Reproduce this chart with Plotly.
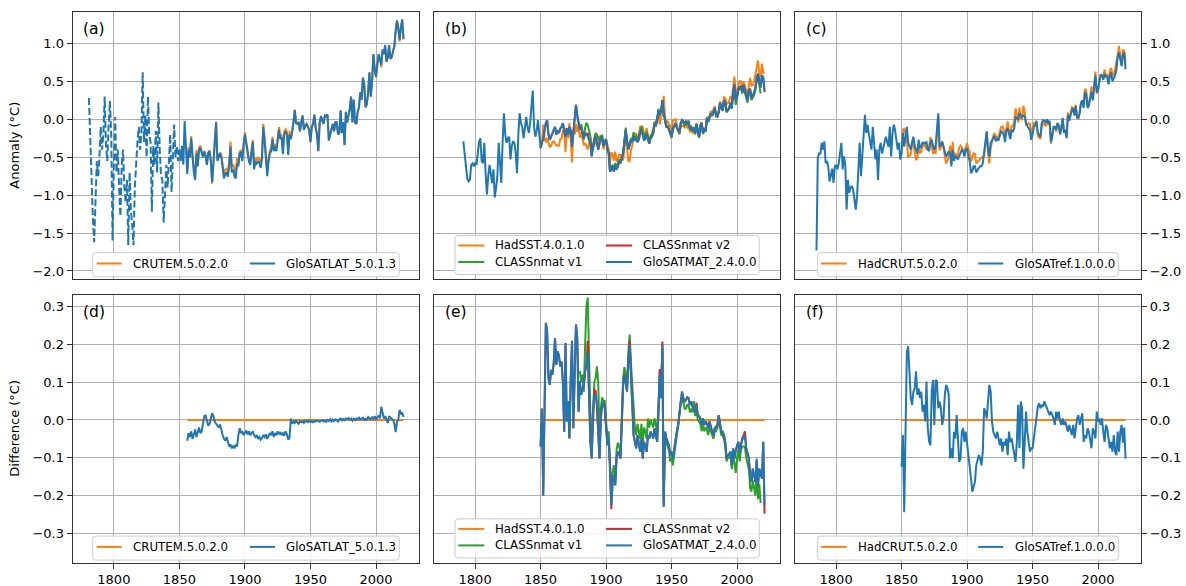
import plotly.graph_objects as go
import pandas as pd

W, H = 1186, 586

# ---------------- data (annual anomalies, degC) ----------------
# GloSATLAT_5.0.1.3 land air temperature, 1781-2021 (dashed up to 1850)
glosatlat_start = 1781
dashed_end_year = 1850
glosatlat = [
    0.28, -0.30, -1.00, -1.30, -1.62, -1.10, -0.55, -0.75, -0.50, -0.10,
    -0.40, -0.20, 0.30, -0.35, -0.55, -0.10, 0.24, -0.20, -1.60, -0.60,
    0.03, -0.70, -0.40, -0.90, -1.28, -0.60, -0.40, -0.90, -1.10, -0.80,
    -1.66, -0.70, -1.20, -1.40, -1.66, -0.90, -0.50, -0.30, -0.10, -0.40,
    -0.20, 0.62, -0.30, 0.05, -0.50, 0.30, -0.20, -0.30, -1.22, -0.35,
    -0.60, -0.15, -0.70, 0.22, -0.40, -0.75, -0.80, -1.36, -1.00, -0.60,
    -0.90, -0.50, -0.20, -0.96, -0.45, -0.07, -0.50, -0.35, -0.55, -0.40,
    -0.55, -0.35, -0.60, -0.02, -0.50, -0.72, -0.40, -0.50, -0.25, -0.55,
    -0.70, -0.80, -0.45, -0.62, -0.40, -0.38, -0.45, -0.50, -0.42, -0.48,
    -0.60, -0.45, -0.42, -0.55, -0.83, -0.55, -0.30, -0.04, -0.55, -0.50,
    -0.45, -0.50, -0.62, -0.78, -0.72, -0.70, -0.76, -0.62, -0.36, -0.70,
    -0.66, -0.75, -0.78, -0.58, -0.62, -0.45, -0.44, -0.55, -0.32, -0.20,
    -0.32, -0.48, -0.55, -0.60, -0.45, -0.30, -0.66, -0.56, -0.58, -0.55,
    -0.58, -0.64, -0.52, -0.10, -0.28, -0.52, -0.75, -0.56, -0.45, -0.42,
    -0.26, -0.42, -0.36, -0.42, -0.30, -0.14, -0.26, -0.24, -0.46, -0.20,
    -0.16, -0.20, -0.47, -0.20, -0.26, -0.18, -0.04, 0.12, -0.05, -0.06,
    -0.04, -0.16, -0.04, 0.05, -0.14, -0.08, -0.06, -0.10, -0.14, -0.30,
    -0.10, -0.06, 0.06, -0.12, -0.20, -0.42, -0.05, 0.04, 0.00, -0.06,
    0.05, 0.04, 0.06, -0.28, -0.20, -0.14, -0.06, -0.16, -0.04, -0.04,
    -0.20, -0.18, 0.12, -0.18, -0.04, -0.34, 0.10, -0.04, 0.06, 0.14,
    0.30, -0.04, 0.26, -0.04, -0.06, 0.10, 0.16, 0.36, 0.26, 0.55,
    0.46, 0.16, 0.20, 0.36, 0.62, 0.30, 0.50, 0.86, 0.66, 0.56,
    0.72, 0.86, 0.80, 0.72, 0.92, 0.86, 0.98, 0.76, 0.82, 0.98,
    0.80, 0.82, 0.90, 0.96, 1.16, 1.30, 1.20, 1.05, 1.22, 1.32,
    1.06,
]

# GloSATLAT minus CRUTEM.5.0.2.0, 1856-2021
lat_diff_start = 1856
lat_diff = [
    -0.055, -0.035, -0.045, -0.030, -0.050,
    -0.040, -0.025, -0.045, -0.035, -0.020, -0.035, -0.030, -0.010, 0.010, 0.012,
    -0.005, -0.015, -0.010, 0.005, 0.018, 0.010, -0.005, -0.010, -0.015, -0.020,
    -0.012, -0.030, -0.040, -0.050, -0.055, -0.045, -0.062, -0.070, -0.065, -0.075,
    -0.068, -0.075, -0.065, -0.070, -0.040, -0.022, -0.035, -0.030, -0.040, -0.032,
    -0.028, -0.038, -0.030, -0.040, -0.035, -0.030, -0.040, -0.045, -0.040, -0.050,
    -0.045, -0.052, -0.048, -0.040, -0.045, -0.038, -0.050, -0.042, -0.035, -0.040,
    -0.030, -0.045, -0.035, -0.040, -0.030, -0.038, -0.032, -0.040, -0.035, -0.042,
    -0.030, -0.038, -0.052, -0.048, 0.004, -0.010, -0.004, -0.008, -0.002, -0.006,
    -0.010, -0.004, -0.006, -0.003, -0.008, -0.002, -0.004, -0.006, -0.001, -0.005,
    -0.003, -0.006, -0.002, -0.004, -0.001, -0.003, -0.005, -0.002, 0.000, -0.004,
    -0.002, -0.005, 0.000, -0.003, 0.002, -0.004, 0.001, -0.003, 0.002, 0.000,
    -0.004, 0.002, 0.004, -0.001, 0.003, 0.000, 0.004, 0.002, 0.005, 0.001,
    0.004, -0.002, 0.003, 0.000, 0.004, 0.002, 0.006, 0.001, 0.004, 0.006,
    0.000, 0.003, 0.001, 0.008, 0.004, 0.002, 0.007, 0.003, 0.010, 0.002,
    0.006, 0.012, 0.004, 0.035, 0.020, 0.004, 0.010, 0.002, -0.008, 0.010,
    0.006, 0.002, 0.000, -0.010, -0.032, -0.005, 0.000, 0.027, 0.015, 0.020,
    0.008,
]

# GloSATMAT_2.4.0.0 marine air temperature, 1791-2021
glosatmat_start = 1791
glosatmat = [
    -0.29, -0.45, -0.58, -0.78, -0.82, -0.80, -0.60, -0.58, -0.62, -0.58,
    -0.60, -0.45, -0.30, -0.25, -0.55, -0.58, -0.31, -0.70, -0.99, -0.75,
    -0.60, -0.72, -0.84, -0.66, -1.03, -0.90, -0.75, -0.31, -0.60, -0.84,
    -0.30, 0.08, -0.20, -0.31, -0.25, -0.23, -0.53, -0.35, -0.29, -0.31,
    -0.45, -0.71, -0.20, 0.08, -0.05, -0.10, -0.25, -0.10, 0.03, -0.10,
    -0.18, -0.05, 0.20, 0.38, -0.10, -0.23, -0.15, -0.01, -0.20, -0.38,
    -0.30, -0.27, -0.15, -0.05, -0.01, -0.20, -0.27, -0.22, -0.18, -0.14,
    -0.10, -0.20, -0.16, -0.18, -0.12, -0.10, -0.05, -0.15, -0.23, -0.12,
    -0.20, -0.10, -0.15, -0.36, -0.15, -0.05, 0.19, 0.05, -0.05, -0.14,
    -0.10, -0.20, -0.25, -0.18, -0.20, -0.22, -0.27, -0.30, -0.49, -0.35,
    -0.28, -0.23, -0.30, -0.40, -0.32, -0.25, -0.23, -0.35, -0.30, -0.28,
    -0.40, -0.45, -0.69, -0.66, -0.62, -0.69, -0.60, -0.66, -0.62, -0.55,
    -0.58, -0.50, -0.45, -0.30, -0.14, -0.30, -0.40, -0.35, -0.28, -0.30,
    -0.23, -0.28, -0.26, -0.30, -0.27, -0.18, -0.14, -0.20, -0.28, -0.25,
    -0.20, -0.27, -0.32, -0.25, -0.23, -0.18, -0.07, -0.08, -0.02, 0.12,
    0.05, 0.10, 0.25, 0.08, -0.01, -0.10, -0.08, -0.14, -0.18, -0.23,
    -0.12, -0.08, -0.05, -0.10, -0.15, -0.18, -0.05, -0.01, -0.03, -0.06,
    -0.03, -0.05, -0.02, -0.12, -0.10, -0.14, -0.12, -0.18, -0.06, -0.15,
    -0.23, -0.08, -0.05, -0.18, -0.12, -0.15, 0.02, -0.02, 0.05, 0.08,
    0.05, 0.10, 0.15, 0.05, 0.04, 0.10, 0.22, 0.15, 0.12, 0.25,
    0.22, 0.10, 0.12, 0.15, 0.22, 0.15, 0.35, 0.46, 0.25, 0.30,
    0.40, 0.42, 0.44, 0.36, 0.45, 0.38, 0.30, 0.25, 0.38, 0.40,
    0.28, 0.32, 0.35, 0.42, 0.55, 0.60, 0.48, 0.42, 0.58, 0.55,
    0.38,
]

# GloSATMAT minus HadSST.4.0.1.0, 1850-2021
mat_diff_start = 1850
mat_diff = [
    -0.070,
    0.030, -0.200, 0.100, 0.257, 0.235, 0.110, 0.093, 0.133, 0.120, 0.150,
    0.217, 0.146, 0.182, 0.170, 0.142, 0.155, 0.100, -0.031, 0.204, -0.004,
    0.050, -0.049, 0.110, 0.210, -0.022, 0.150, 0.253, 0.217, 0.022, 0.102,
    0.067, 0.080, 0.093, 0.129, 0.146, 0.180, 0.049, -0.058, -0.102, 0.022,
    0.067, 0.067, 0.040, -0.040, -0.102, 0.004, 0.044, 0.044, 0.031, -0.020,
    -0.067, -0.049, -0.120, -0.226, -0.160, -0.146, -0.173, -0.102, -0.084, -0.090,
    -0.102, -0.013, 0.093, 0.120, 0.090, 0.075, 0.146, 0.200, 0.120, 0.049,
    -0.040, -0.058, -0.075, -0.040, -0.060, -0.084, -0.049, -0.102, -0.058, -0.070,
    -0.084, -0.040, -0.049, -0.031, -0.040, -0.049, -0.022, -0.040, -0.058, 0.022,
    0.120, 0.058, 0.200, -0.230, -0.031, -0.049, -0.060, -0.067, -0.093, -0.084,
    -0.102, -0.075, -0.050, -0.031, -0.013, 0.020, 0.060, 0.075, 0.058, 0.049,
    0.053, 0.060, 0.058, 0.040, 0.049, 0.035, 0.031, 0.022, 0.040, 0.013,
    0.010, 0.004, -0.013, 0.004, -0.013, -0.004, -0.010, -0.022, -0.004, -0.020,
    -0.031, -0.040, -0.022, -0.018, -0.013, 0.013, -0.013, -0.031, -0.031, -0.040,
    -0.058, -0.102, -0.093, -0.090, -0.084, -0.120, -0.075, -0.102, -0.080, -0.067,
    -0.058, -0.084, -0.060, -0.049, -0.049, -0.040, -0.075, -0.090, -0.102, -0.146,
    -0.164, -0.129, -0.150, -0.164, -0.102, -0.173, -0.129, -0.140, -0.155, -0.058,
    -0.226,
]

# CLASSnmat v1 minus HadSST, 1880-2018
v1_diff_start = 1880
v1_diff = [
    0.130,
    0.100, 0.120, 0.075, 0.200, 0.300, 0.324, 0.150, 0.020, -0.060, 0.050,
    0.100, 0.110, 0.142, 0.100, -0.040, 0.030, 0.060, 0.050, 0.050, 0.000,
    -0.050, -0.030, -0.100, -0.200, -0.140, -0.120, -0.150, -0.080, -0.060, -0.070,
    -0.090, 0.010, 0.110, 0.140, 0.120, 0.100, 0.180, 0.226, 0.150, 0.080,
    0.020, -0.020, -0.040, -0.010, -0.030, -0.050, -0.010, -0.060, -0.020, -0.030,
    -0.050, 0.004, -0.020, 0.000, -0.010, -0.020, 0.004, -0.010, -0.030, 0.040,
    0.130, 0.070, 0.190, -0.210, -0.040, -0.060, -0.070, -0.080, -0.110, -0.100,
    -0.120, -0.090, -0.060, -0.040, -0.020, 0.010, 0.050, 0.060, 0.040, 0.030,
    0.030, 0.040, 0.040, 0.020, 0.030, 0.020, 0.050, 0.010, 0.030, 0.000,
    -0.005, -0.010, -0.030, -0.010, -0.030, -0.020, -0.025, -0.040, -0.020, -0.030,
    -0.040, -0.050, -0.030, -0.030, -0.020, 0.005, -0.020, -0.040, -0.040, -0.050,
    -0.070, -0.110, -0.100, -0.100, -0.090, -0.130, -0.090, -0.120, -0.140, -0.100,
    -0.080, -0.110, -0.080, -0.070, -0.070, -0.070, -0.100, -0.120, -0.130, -0.180,
    -0.190, -0.160, -0.180, -0.200, -0.140, -0.210, -0.170, -0.220,
]

# CLASSnmat v2 minus GloSATMAT (years where they differ visibly)
v2_offset_years = [1886, 1891, 1892, 1904, 1917, 1918, 1941, 1943, 1969, 2005, 2006, 2015, 2021]
v2_offset_values = [0.030, 0.012, 0.010, -0.010, 0.012, 0.010, 0.015, 0.008, 0.006, 0.008, 0.010, -0.006, -0.022]

# GloSATref.1.0.0.0 combined, 1785-2021
glosatref_start = 1785
glosatref = [
    -1.73, -0.51, -0.45, -0.45, -0.31, -0.40,
    -0.29, -0.58, -0.55, -0.62, -0.82, -0.71, -0.65, -0.84, -0.62, -0.60,
    -0.66, -0.58, -0.45, -0.31, -0.66, -0.49, -0.60, -1.19, -0.80, -0.97,
    -0.90, -0.88, -0.93, -1.05, -1.19, -1.01, -0.60, -0.31, -0.75, -0.45,
    -0.20, 0.06, -0.18, -0.07, -0.20, -0.31, -0.40, -0.10, -0.40, -0.53,
    -0.40, -0.80, -0.40, -0.31, -0.45, -0.38, -0.31, -0.23, -0.30, -0.36,
    -0.10, -0.49, -0.20, -0.07, -0.14, -0.25, -0.40, -0.31, -0.53, -0.45,
    -0.18, -0.36, -0.20, -0.10, -0.31, -0.35, -0.40, -0.30, -0.23, -0.35,
    -0.40, -0.45, -0.27, -0.38, -0.36, -0.30, -0.32, -0.31, -0.30, -0.40,
    -0.42, -0.30, -0.27, -0.35, -0.40, -0.35, -0.10, 0.08, -0.36, -0.34,
    -0.30, -0.36, -0.42, -0.49, -0.46, -0.42, -0.45, -0.62, -0.40, -0.55,
    -0.49, -0.50, -0.53, -0.48, -0.45, -0.40, -0.42, -0.49, -0.40, -0.38,
    -0.49, -0.55, -0.71, -0.68, -0.62, -0.62, -0.70, -0.66, -0.64, -0.62,
    -0.62, -0.58, -0.45, -0.30, -0.16, -0.40, -0.49, -0.31, -0.28, -0.25,
    -0.22, -0.29, -0.26, -0.28, -0.23, -0.15, -0.18, -0.20, -0.30, -0.14,
    -0.12, -0.18, -0.26, -0.14, -0.16, -0.12, 0.03, 0.02, 0.00, 0.08,
    0.05, 0.03, 0.05, 0.04, -0.05, -0.10, -0.12, -0.14, -0.27, -0.20,
    -0.10, -0.08, -0.02, -0.18, -0.20, -0.23, -0.05, -0.01, -0.02, -0.05,
    0.00, -0.05, -0.02, -0.30, -0.22, -0.10, -0.10, -0.14, -0.05, -0.08,
    -0.20, -0.12, 0.02, -0.18, -0.14, -0.25, 0.06, -0.02, 0.05, 0.12,
    0.14, 0.05, 0.17, 0.02, 0.02, 0.08, 0.22, 0.25, 0.15, 0.36,
    0.33, 0.15, 0.18, 0.25, 0.36, 0.25, 0.42, 0.58, 0.36, 0.38,
    0.50, 0.58, 0.58, 0.52, 0.60, 0.56, 0.56, 0.46, 0.56, 0.62,
    0.50, 0.54, 0.58, 0.65, 0.82, 0.88, 0.78, 0.70, 0.86, 0.88,
    0.66,
]

# GloSATref minus HadCRUT.5.0.2.0, 1850-2021
ref_diff_start = 1850
ref_diff = [
    -0.124,
    -0.040, -0.244, 0.004, 0.180, 0.195, 0.129, 0.058, 0.040, 0.075, 0.084,
    0.129, 0.067, 0.084, 0.058, 0.075, 0.022, 0.040, -0.004, 0.102, -0.022,
    -0.058, -0.067, 0.075, 0.106, -0.013, 0.106, 0.102, 0.031, 0.049, 0.031,
    -0.013, 0.004, 0.067, 0.093, 0.084, 0.067, -0.102, -0.075, -0.102, -0.031,
    -0.049, 0.013, -0.067, -0.111, -0.102, -0.031, -0.022, -0.058, -0.031, -0.067,
    -0.093, -0.120, -0.155, -0.190, -0.173, -0.164, -0.120, -0.102, -0.093, -0.102,
    -0.120, -0.084, 0.031, 0.022, 0.004, 0.049, 0.093, 0.075, -0.004, -0.031,
    -0.040, -0.049, -0.031, -0.049, -0.067, -0.049, -0.084, -0.058, -0.067, -0.049,
    -0.093, -0.031, -0.058, -0.049, -0.067, -0.093, -0.111, -0.058, 0.040, -0.075,
    0.049, 0.031, -0.129, -0.058, 0.022, -0.031, -0.067, -0.084, -0.075, -0.075,
    -0.049, -0.022, 0.004, 0.035, 0.044, 0.031, 0.040, 0.035, 0.049, 0.040,
    0.031, 0.027, 0.013, 0.022, 0.013, 0.004, -0.013, 0.022, 0.004, 0.022,
    -0.004, -0.013, 0.004, -0.013, -0.004, -0.022, -0.031, -0.013, -0.031, -0.040,
    -0.013, -0.049, -0.022, 0.004, 0.013, -0.013, 0.004, 0.018, -0.058, -0.040,
    -0.049, -0.022, -0.031, -0.058, -0.075, -0.022, -0.031, -0.049, 0.022, -0.004,
    0.004, -0.013, 0.004, -0.031, -0.058, -0.013, -0.022, -0.049, -0.075, -0.058,
    -0.084, -0.040, -0.084, -0.093, -0.031, -0.084, -0.031, -0.013, -0.060, -0.020,
    -0.102,
]

x_ticks = [1800, 1850, 1900, 1950, 2000]
anom_ticks = [-2.0, -1.5, -1.0, -0.5, 0.0, 0.5, 1.0]
diff_ticks = [-0.3, -0.2, -0.1, 0.0, 0.1, 0.2, 0.3]
panel_labels = ["(a)", "(b)", "(c)", "(d)", "(e)", "(f)"]

# ---------------- derived series ----------------
def ser(start, vals):
    return pd.Series(vals, index=range(start, start + len(vals)), dtype=float)

lat = ser(glosatlat_start, glosatlat)
crutem = (lat - ser(lat_diff_start, lat_diff)).dropna()

mat = ser(glosatmat_start, glosatmat)
d_mat = ser(mat_diff_start, mat_diff)
hadsst = (mat - d_mat).dropna()
class_v1 = (hadsst + ser(v1_diff_start, v1_diff)).dropna()
v2_off = pd.Series(v2_offset_values, index=v2_offset_years).reindex(hadsst.index, fill_value=0.0)
class_v2 = (mat + v2_off).reindex(hadsst.index)

ref = ser(glosatref_start, glosatref)
hadcrut = (ref - ser(ref_diff_start, ref_diff)).dropna()

ORANGE, BLUE, GREEN, RED = "#ff7f0e", "#1f77b4", "#2ca02c", "#d62728"
LW = 2.0

fig = go.Figure()

def add(s, color, ax, dash=None):
    s = s.dropna()
    fig.add_trace(go.Scatter(
        x=list(s.index), y=list(s.values), mode="lines",
        line=dict(color=color, width=LW, dash=dash),
        xaxis="x" + ("" if ax == 1 else str(ax)),
        yaxis="y" + ("" if ax == 1 else str(ax)),
        showlegend=False, hoverinfo="skip"))

# (a)
add(crutem, ORANGE, 1)
add(lat.loc[:dashed_end_year], BLUE, 1, dash="7px,3px")
add(lat.loc[dashed_end_year:], BLUE, 1)
# (b)
add(hadsst, ORANGE, 2)
add(class_v1, GREEN, 2)
add(class_v2, RED, 2)
add(mat, BLUE, 2)
# (c)
add(hadcrut, ORANGE, 3)
add(ref, BLUE, 3)
# (d)
add(crutem - crutem, ORANGE, 4)
add((lat - crutem).dropna(), BLUE, 4)
# (e)
add(hadsst - hadsst, ORANGE, 5)
add((class_v1 - hadsst).dropna(), GREEN, 5)
add((class_v2 - hadsst).dropna(), RED, 5)
add((mat - hadsst).dropna(), BLUE, 5)
# (f)
add(hadcrut - hadcrut, ORANGE, 6)
add((ref - hadcrut).dropna(), BLUE, 6)

# ---------------- layout ----------------
FONT = "DejaVu Sans"
xdom_px = [(72.7, 419.0), (434.0, 780.0), (795.0, 1141.0)]
ydom_px = [(12.0, 279.3), (295.0, 562.7)]
XR = [1768.6, 2032.8]
YR = [[-2.11, 1.415], [-0.378, 0.331]]

def px_x(x):
    return x / W

def px_y(y):
    return 1 - y / H

def fmt(v):
    s = f"{abs(v):.1f}"
    return ("\u2212" + s) if v < 0 else s

layout = dict(
    width=W, height=H, autosize=False,
    margin=dict(l=0, r=0, t=0, b=0),
    paper_bgcolor="white", plot_bgcolor="white",
    font=dict(family=FONT, size=13, color="black"),
    showlegend=False,
)

common = dict(showline=True, mirror=True, linecolor="#333333", linewidth=1.1,
              showgrid=True, gridcolor="#b0b0b0", gridwidth=1, zeroline=False,
              automargin=False,
              tickfont=dict(family=FONT, size=13, color="black"),
              ticklen=5, tickwidth=1, tickcolor="#333333")

for r in range(2):
    for c in range(3):
        i = r * 3 + c + 1
        sfx = "" if i == 1 else str(i)
        x0, x1 = xdom_px[c]
        ytop, ybot = ydom_px[r]
        xa = dict(common, domain=[px_x(x0), px_x(x1)], range=XR,
                  anchor="y" + sfx, tickmode="array", tickvals=x_ticks,
                  ticktext=[str(t) for t in x_ticks])
        if r == 0:
            xa.update(showticklabels=False, ticks="")
        else:
            xa.update(showticklabels=True, ticks="outside")
        yt = anom_ticks if r == 0 else diff_ticks
        ya = dict(common, domain=[px_y(ybot), px_y(ytop)], range=YR[r],
                  anchor="x" + sfx, tickmode="array", tickvals=yt,
                  ticktext=[fmt(v) for v in yt])
        if c == 0:
            ya.update(side="left", ticks="outside", showticklabels=True)
        elif c == 2:
            ya.update(side="right", ticks="outside", showticklabels=True)
        else:
            ya.update(ticks="", showticklabels=False)
        layout["xaxis" + sfx] = xa
        layout["yaxis" + sfx] = ya

fig.update_layout(**layout)

annotations = []
shapes = []

# y axis titles
for r, title in enumerate(["Anomaly (\u00b0C)", "Difference (\u00b0C)"]):
    ytop, ybot = ydom_px[r]
    annotations.append(dict(text=title, x=px_x(15), y=px_y((ytop + ybot) / 2),
                            xref="paper", yref="paper", showarrow=False,
                            textangle=-90, xanchor="center", yanchor="middle",
                            font=dict(family=FONT, size=13, color="black")))

# panel labels
for r in range(2):
    for c in range(3):
        x0 = xdom_px[c][0]
        ytop = ydom_px[r][0]
        annotations.append(dict(text=panel_labels[r * 3 + c], x=px_x(x0 + 8.5),
                                y=px_y(ytop + 16.5), xref="paper", yref="paper",
                                showarrow=False, xanchor="left", yanchor="middle",
                                font=dict(family=FONT, size=15.5, color="black")))

def rrect(x0, y0, x1, y1, r=3.0):
    X = lambda v: px_x(v)
    Y = lambda v: px_y(v)
    path = (f"M {X(x0 + r)},{Y(y0)} L {X(x1 - r)},{Y(y0)} "
            f"Q {X(x1)},{Y(y0)} {X(x1)},{Y(y0 + r)} L {X(x1)},{Y(y1 - r)} "
            f"Q {X(x1)},{Y(y1)} {X(x1 - r)},{Y(y1)} L {X(x0 + r)},{Y(y1)} "
            f"Q {X(x0)},{Y(y1)} {X(x0)},{Y(y1 - r)} L {X(x0)},{Y(y0 + r)} "
            f"Q {X(x0)},{Y(y0)} {X(x0 + r)},{Y(y0)} Z")
    return dict(type="path", path=path, xref="paper", yref="paper",
                fillcolor="rgba(255,255,255,0.85)", line=dict(color="#cccccc", width=1),
                layer="above")

def legend(box, items):
    shapes.append(rrect(*box))
    for (lx0, lx1, tx, y, label, color) in items:
        shapes.append(dict(type="line", xref="paper", yref="paper",
                           x0=px_x(lx0), x1=px_x(lx1), y0=px_y(y), y1=px_y(y),
                           line=dict(color=color, width=LW), layer="above"))
        annotations.append(dict(text=label, x=px_x(tx), y=px_y(y), xref="paper",
                                yref="paper", showarrow=False, xanchor="left",
                                yanchor="middle",
                                font=dict(family=FONT, size=11.8, color="black")))

lat_names = ("CRUTEM.5.0.2.0", "GloSATLAT_5.0.1.3")
mat_names = ("HadSST.4.0.1.0", "CLASSnmat v1", "CLASSnmat v2", "GloSATMAT_2.4.0.0")
ref_names = ("HadCRUT.5.0.2.0", "GloSATref.1.0.0.0")

for r in range(2):
    off = ydom_px[r][1] - ydom_px[0][1]
    yrow = 263.5 + off
    legend((92.7, 252.7 + off, 399.3, 276.7 + off),
           [(96.7, 121.7, 131.0, yrow, lat_names[0], ORANGE),
            (250.0, 275.0, 284.0, yrow, lat_names[1], BLUE)])
    y1r, y2r = 245.5 + off, 262.0 + off
    legend((455.0, 235.5 + off, 759.3, 274.5 + off),
           [(458.3, 484.3, 493.3, y1r, mat_names[0], ORANGE),
            (458.3, 484.3, 493.3, y2r, mat_names[1], GREEN),
            (606.0, 632.0, 640.7, y1r, mat_names[2], RED),
            (606.0, 632.0, 640.7, y2r, mat_names[3], BLUE)])
    legend((817.7, 252.7 + off, 1118.3, 276.7 + off),
           [(821.0, 846.7, 856.0, yrow, ref_names[0], ORANGE),
            (978.3, 1003.3, 1013.3, yrow, ref_names[1], BLUE)])

fig.update_layout(annotations=annotations, shapes=shapes)

# the page body normally has an 8px margin; remove it so the figure fills the window
page_css = ("document.body.style.margin='0px';"
            "document.body.style.padding='0px';"
            "document.body.style.overflow='hidden';"
            "document.documentElement.style.overflow='hidden';")
fig.write_html("out.html", include_plotlyjs=True, post_script=page_css,
               config={"displayModeBar": False, "staticPlot": True})
